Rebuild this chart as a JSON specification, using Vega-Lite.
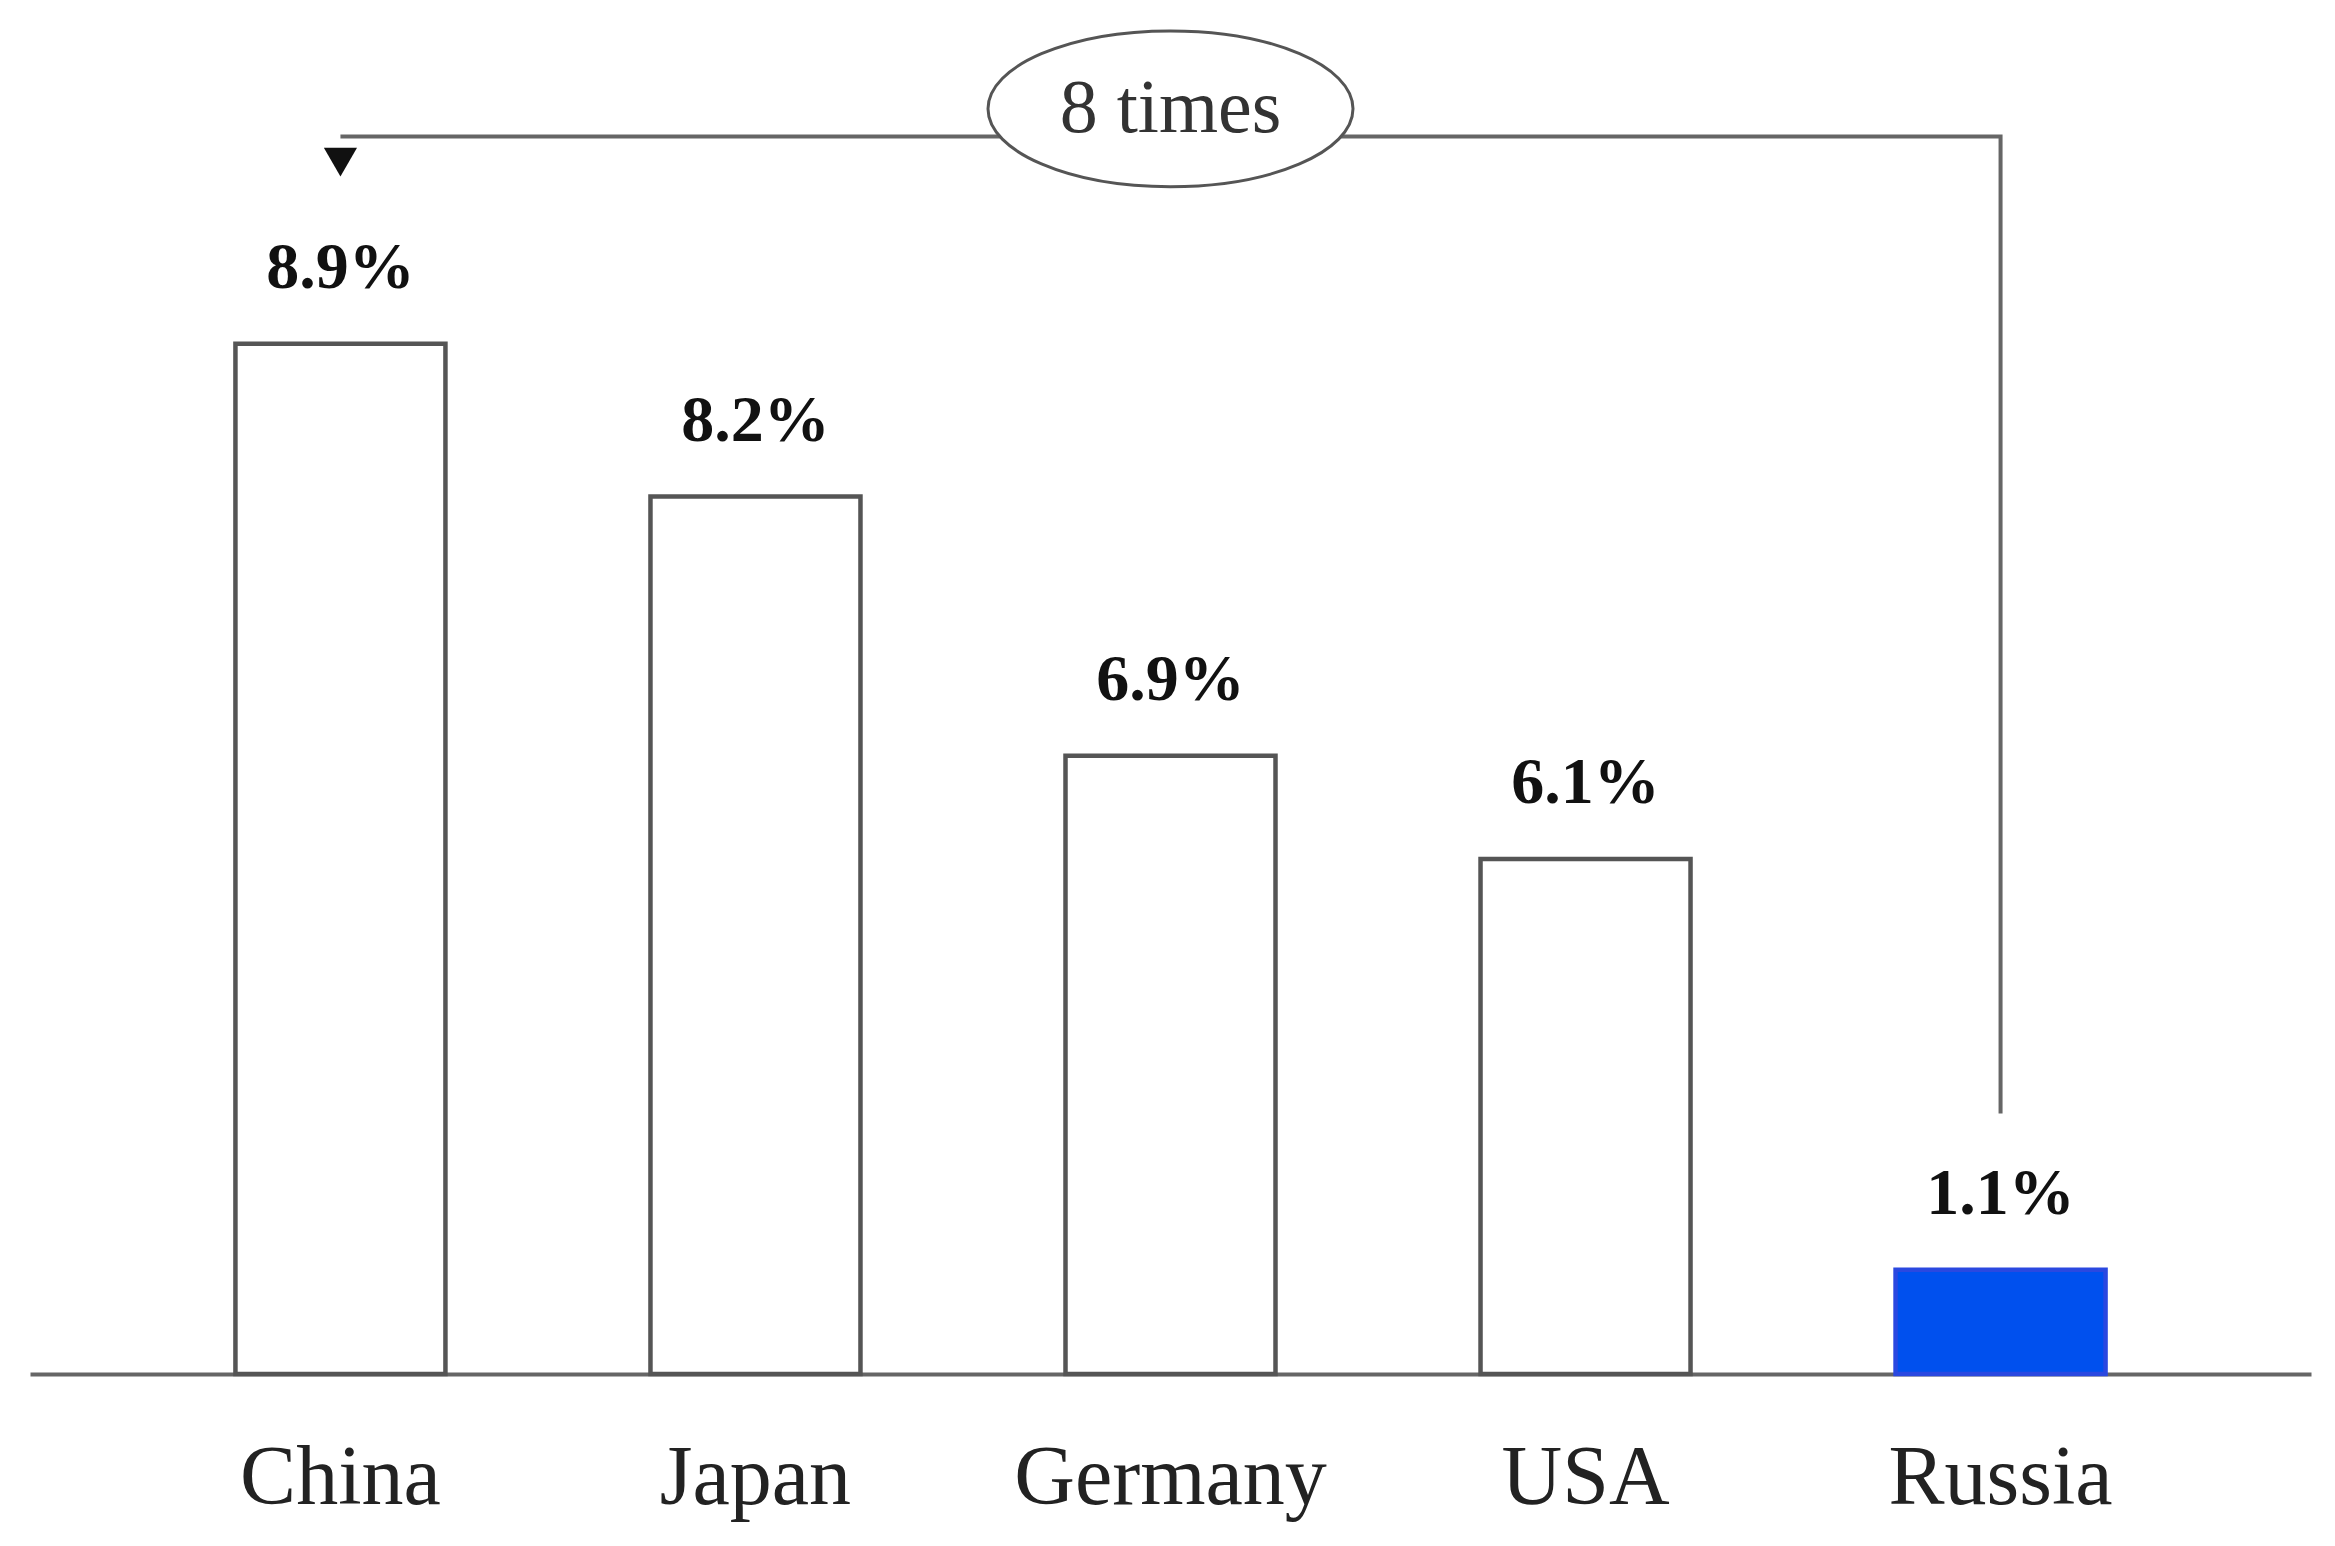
{
  "$schema": "https://vega.github.io/schema/vega-lite/v6.json",
  "width": 2281,
  "height": 1374,
  "autosize": "none",
  "padding": {"left": 30, "right": 24, "top": 0, "bottom": 172},
  "background": "white",
  "config": {"view": {"stroke": null}},
  "datasets": {
    "bars": [
      {"country": "China", "drawn": 8.9, "label": "8.9%"},
      {"country": "Japan", "drawn": 7.58, "label": "8.2%"},
      {"country": "Germany", "drawn": 5.34, "label": "6.9%"},
      {"country": "USA", "drawn": 4.45, "label": "6.1%"},
      {"country": "Russia", "drawn": 0.9, "label": "1.1%"}
    ],
    "arrow": [
      {"country": "Russia", "level": 2.25, "step": 1},
      {"country": "Russia", "level": 10.69, "step": 2},
      {"country": "China", "level": 10.69, "step": 3}
    ],
    "note": [
      {"country": "Germany", "level": 10.93, "text": "8 times"}
    ],
    "head": [
      {"country": "China", "level": 10.47}
    ]
  },
  "encoding": {
    "x": {
      "field": "country",
      "type": "nominal",
      "scale": {"domain": ["China", "Japan", "Germany", "USA", "Russia"], "paddingInner": 0.494, "paddingOuter": 0.495},
      "axis": {
        "title": null,
        "ticks": false,
        "tickSize": 0,
        "grid": false,
        "labelAngle": 0,
        "labelLimit": 0,
        "labelPadding": 104,
        "labelBaseline": "middle",
        "labelFont": "Liberation Serif",
        "labelFontSize": 84,
        "labelColor": "#222222",
        "domainColor": "#666666",
        "domainWidth": 4
      }
    }
  },
  "layer": [
    {
      "data": {"name": "bars"},
      "mark": {"type": "bar", "strokeWidth": 4.5},
      "encoding": {
        "y": {"field": "drawn", "type": "quantitative", "scale": {"domain": [0, 11.87], "nice": false, "zero": true}, "axis": null},
        "fill": {"condition": {"test": "datum.country === 'Russia'", "value": "#0050ee"}, "value": "white"},
        "stroke": {"condition": {"test": "datum.country === 'Russia'", "value": "#2a48e0"}, "value": "#555555"}
      }
    },
    {
      "data": {"name": "bars"},
      "mark": {"type": "text", "dy": -76, "baseline": "middle", "font": "Liberation Serif", "fontWeight": "bold", "fontSize": 66, "color": "#111111"},
      "encoding": {
        "y": {"field": "drawn", "type": "quantitative"},
        "text": {"field": "label"}
      }
    },
    {
      "data": {"name": "arrow"},
      "mark": {"type": "line", "stroke": "#666666", "strokeWidth": 4},
      "encoding": {
        "y": {"field": "level", "type": "quantitative"},
        "order": {"field": "step", "type": "quantitative"}
      }
    },
    {
      "data": {"name": "head"},
      "mark": {"type": "point", "shape": "triangle-down", "size": 1100, "filled": true, "color": "#111111", "opacity": 1},
      "encoding": {
        "y": {"field": "level", "type": "quantitative"}
      }
    },
    {
      "data": {"name": "note"},
      "mark": {"type": "point", "shape": "M -1 0 A 1 0.427 0 1 1 1 0 A 1 0.427 0 1 1 -1 0 Z", "size": 133225, "filled": true, "fill": "white", "stroke": "#555555", "strokeWidth": 3, "opacity": 1},
      "encoding": {
        "y": {"field": "level", "type": "quantitative"}
      }
    },
    {
      "data": {"name": "note"},
      "mark": {"type": "text", "baseline": "middle", "font": "Liberation Serif", "fontSize": 76, "color": "#333333"},
      "encoding": {
        "y": {"field": "level", "type": "quantitative"},
        "text": {"field": "text"}
      }
    }
  ]
}
